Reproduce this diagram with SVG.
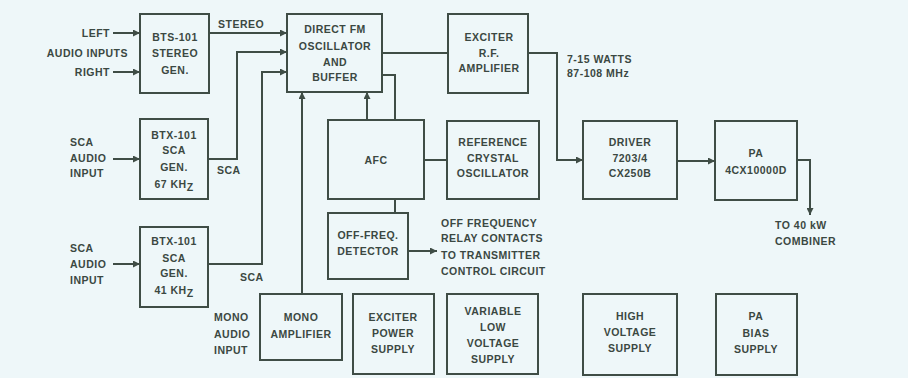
<svg xmlns="http://www.w3.org/2000/svg" width="908" height="378" viewBox="0 0 908 378">
<style>
.bg{fill:#eef7f9}
.box{fill:none;stroke:#3f4d46;stroke-width:2}
.ln{fill:none;stroke:#3f4d46;stroke-width:2}
text{font-family:"Liberation Sans",Arial,sans-serif;font-weight:bold;font-size:10.5px;letter-spacing:0.5px;fill:#3b4842}
.c{text-anchor:middle}
.e{text-anchor:end}
</style>
<defs>
<marker id="ar" viewBox="0 0 10 10" refX="10" refY="5" markerWidth="9" markerHeight="7" markerUnits="userSpaceOnUse" orient="auto">
<path d="M0,0 L10,5 L0,10 z" fill="#3f4d46"/>
</marker>
</defs>
<rect class="bg" x="0" y="0" width="908" height="378"/>

<g id="connectors">
<path class="ln" d="M113,33 H140" marker-end="url(#ar)"/>
<path class="ln" d="M113,72 H140" marker-end="url(#ar)"/>
<path class="ln" d="M209,33 H287" marker-end="url(#ar)"/>
<path class="ln" d="M208,159 H237 V52 H287" marker-end="url(#ar)"/>
<path class="ln" d="M208,264 H262 V72 H287" marker-end="url(#ar)"/>
<path class="ln" d="M113,159 H140" marker-end="url(#ar)"/>
<path class="ln" d="M113,264 H140" marker-end="url(#ar)"/>
<path class="ln" d="M382,53 H448"/>
<path class="ln" d="M528,53 H557 V160 H583" marker-end="url(#ar)"/>
<path class="ln" d="M382,75 H395 V120"/>
<path class="ln" d="M367,120 V92" marker-end="url(#ar)"/>
<path class="ln" d="M302,294 V92" marker-end="url(#ar)"/>
<path class="ln" d="M424,160 H447"/>
<path class="ln" d="M395,199 V213"/>
<path class="ln" d="M408,251 H437" marker-end="url(#ar)"/>
<path class="ln" d="M677,161 H715" marker-end="url(#ar)"/>
<path class="ln" d="M797,160 H810 V215" marker-end="url(#ar)"/>
</g>

<g id="labels">
<text class="e" x="110" y="37">LEFT</text>
<text class="e" x="128" y="57">AUDIO INPUTS</text>
<text class="e" x="110" y="76">RIGHT</text>
<text x="218" y="28">STEREO</text>
<text x="70" y="146">SCA</text>
<text x="70" y="162">AUDIO</text>
<text x="70" y="177">INPUT</text>
<text x="217" y="174">SCA</text>
<text x="70" y="252">SCA</text>
<text x="70" y="268">AUDIO</text>
<text x="70" y="284">INPUT</text>
<text x="240" y="281">SCA</text>
<text x="214" y="321">MONO</text>
<text x="214" y="338">AUDIO</text>
<text x="214" y="354">INPUT</text>
<text x="567" y="63">7-15 WATTS</text>
<text x="567" y="77">87-108 MHz</text>
<text x="441" y="227">OFF FREQUENCY</text>
<text x="441" y="242">RELAY CONTACTS</text>
<text x="441" y="259">TO TRANSMITTER</text>
<text x="441" y="275">CONTROL CIRCUIT</text>
<text x="775" y="229">TO 40 kW</text>
<text x="775" y="245">COMBINER</text>
</g>

<g id="bts101">
<rect class="box" x="140" y="14" width="69" height="79"/>
<text class="c" x="175" y="41">BTS-101</text>
<text class="c" x="175" y="57">STEREO</text>
<text class="c" x="175" y="74">GEN.</text>
</g>

<g id="btx101-67">
<rect class="box" x="140" y="119" width="68" height="80"/>
<text class="c" x="174" y="139">BTX-101</text>
<text class="c" x="174" y="154">SCA</text>
<text class="c" x="174" y="171">GEN.</text>
<text class="c" x="174" y="188">67 KH<tspan dy="3">Z</tspan></text>
</g>

<g id="btx101-41">
<rect class="box" x="140" y="227" width="68" height="80"/>
<text class="c" x="174" y="245">BTX-101</text>
<text class="c" x="174" y="262">SCA</text>
<text class="c" x="174" y="277">GEN.</text>
<text class="c" x="174" y="294">41 KH<tspan dy="3">Z</tspan></text>
</g>

<g id="dfm">
<rect class="box" x="287" y="14" width="95" height="78"/>
<text class="c" x="335" y="33">DIRECT FM</text>
<text class="c" x="335" y="50">OSCILLATOR</text>
<text class="c" x="335" y="66">AND</text>
<text class="c" x="335" y="81">BUFFER</text>
</g>

<g id="exciter-rf">
<rect class="box" x="448" y="14" width="80" height="79"/>
<text class="c" x="489" y="41">EXCITER</text>
<text class="c" x="489" y="57">R.F.</text>
<text class="c" x="489" y="72">AMPLIFIER</text>
</g>

<g id="afc">
<rect class="box" x="328" y="120" width="96" height="79"/>
<text class="c" x="376" y="164">AFC</text>
</g>

<g id="reference">
<rect class="box" x="447" y="121" width="92" height="78"/>
<text class="c" x="493" y="146">REFERENCE</text>
<text class="c" x="493" y="162">CRYSTAL</text>
<text class="c" x="493" y="177">OSCILLATOR</text>
</g>

<g id="driver">
<rect class="box" x="583" y="121" width="94" height="78"/>
<text class="c" x="630" y="146">DRIVER</text>
<text class="c" x="630" y="162">7203/4</text>
<text class="c" x="630" y="177">CX250B</text>
</g>

<g id="pa">
<rect class="box" x="715" y="121" width="82" height="79"/>
<text class="c" x="756" y="157">PA</text>
<text class="c" x="756" y="174">4CX10000D</text>
</g>

<g id="offfreq">
<rect class="box" x="328" y="213" width="80" height="66"/>
<text class="c" x="368" y="239">OFF-FREQ.</text>
<text class="c" x="368" y="255">DETECTOR</text>
</g>

<g id="mono">
<rect class="box" x="260" y="294" width="82" height="66"/>
<text class="c" x="301" y="321">MONO</text>
<text class="c" x="301" y="338">AMPLIFIER</text>
</g>

<g id="exciter-ps">
<rect class="box" x="353" y="294" width="81" height="80"/>
<text class="c" x="393" y="321">EXCITER</text>
<text class="c" x="393" y="337">POWER</text>
<text class="c" x="393" y="353">SUPPLY</text>
</g>

<g id="variable">
<rect class="box" x="447" y="294" width="91" height="80"/>
<text class="c" x="493" y="315">VARIABLE</text>
<text class="c" x="493" y="331">LOW</text>
<text class="c" x="493" y="347">VOLTAGE</text>
<text class="c" x="493" y="363">SUPPLY</text>
</g>

<g id="hv">
<rect class="box" x="583" y="294" width="94" height="81"/>
<text class="c" x="630" y="320">HIGH</text>
<text class="c" x="630" y="336">VOLTAGE</text>
<text class="c" x="630" y="352">SUPPLY</text>
</g>

<g id="pabias">
<rect class="box" x="716" y="294" width="81" height="81"/>
<text class="c" x="756" y="320">PA</text>
<text class="c" x="756" y="337">BIAS</text>
<text class="c" x="756" y="353">SUPPLY</text>
</g>
</svg>
